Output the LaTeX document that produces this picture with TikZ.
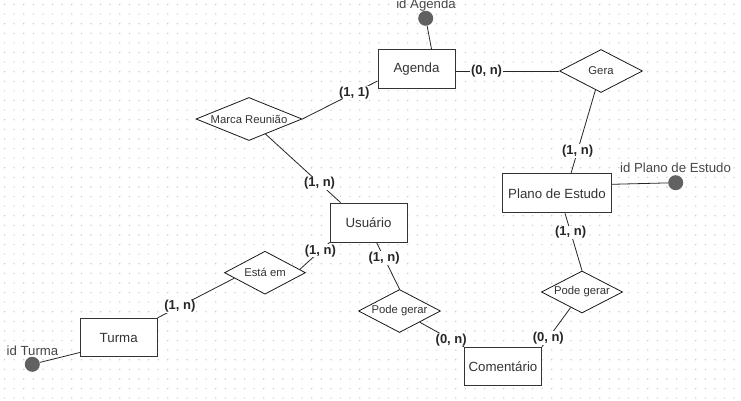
\documentclass[tikz,border=0pt]{standalone}
\usepackage{fontspec}
\setmainfont{Liberation Sans}
\usetikzlibrary{shapes.geometric,calc}
\begin{document}
\begin{tikzpicture}[x=1pt,y=-1pt,
 entity/.style={draw=black!80, line width=0.9pt, fill=white, minimum width=77pt, minimum height=39pt, inner sep=0pt, font=\fontsize{13.3}{16}\selectfont, text=black!80},
 rel/.style={draw=black!90, line width=0.8pt, diamond, aspect=2.4, fill=white, inner sep=0pt, font=\fontsize{11.3}{13}\selectfont, text=black!80},
 card/.style={fill=white, inner sep=0.6pt, font=\bfseries\fontsize{13}{15}\selectfont, text=black!85},
 conn/.style={draw=black!85, line width=0.8pt},
 attr/.style={circle, fill=black!62, minimum size=15pt, inner sep=0pt},
 attrlab/.style={font=\fontsize{13.2}{15}\selectfont, text=black!72, inner sep=0pt}]
\useasboundingbox (0,0) rectangle (741,401);
\fill[white] (0,0) rectangle (741,401);
\fill[black!22] \foreach \i in {0,...,76} { \foreach \j in {0,...,41} { (4+\i*9.6, 4+\j*9.6) rectangle +(1.1,1.1) } };

% entities
\node[entity] (agenda) at (416.5,69) {Agenda};
\node[entity] (usuario) at (368.5,222.5) {Usuário};
\node[entity, minimum width=109pt] (plano) at (557,193.3) {Plano de Estudo};
\node[entity, minimum height=38.5pt] (turma) at (118.7,337.5) {Turma};
\node[entity, minimum height=38.5pt] (coment) at (503,366.5) {Comentário};

% relationships
\node[rel, minimum width=106pt, minimum height=43pt] (marca) at (249,119) {Marca Reunião};
\node[rel, minimum width=83pt, minimum height=43pt] (gera) at (601,71) {Gera};
\node[rel, minimum width=81pt, minimum height=42pt] (pg2) at (582,292) {Pode gerar};
\node[rel, minimum width=82pt, minimum height=43pt] (pg1) at (399.5,311) {Pode gerar};
\node[rel, minimum width=81pt, minimum height=43pt] (esta) at (265,272.7) {Está em};

% attributes
\node[attr] (idagenda) at (425.7,18.3) {};
\node[attr] (idplano) at (675.7,182.7) {};
\node[attr] (idturma) at (32.3,364.3) {};

% connectors
\draw[conn] ([yshift=-12pt]agenda.west) -- node[card,pos=0.31]{(1, 1)} (marca.east);
\draw[conn] (marca) -- node[card,pos=0.72]{(1, n)} ([xshift=11pt]usuario.north west);
\draw[conn] (agenda.east |- gera.west) -- node[card,pos=0.30]{(0, n)} (gera.west);
\draw[conn] (gera) -- node[card,pos=0.73]{(1, n)} ([xshift=14pt]plano.north);
\draw[conn] ([yshift=9pt]plano.east) -- (idplano);
\draw[conn] ([xshift=8pt]plano.south) -- node[card,pos=0.33]{(1, n)} (pg2.north);
\draw[conn] (pg2) -- node[card,pos=0.78]{(0, n)} (coment.north east);
\draw[conn] ([xshift=8pt]usuario.south) -- node[card,pos=0.33]{(1, n)} (pg1.north);
\draw[conn] (pg1) -- node[card,pos=0.71]{(0, n)} (coment.north west);
\draw[conn] ($(esta.east)!0.15!(esta.north)$) -- node[card,pos=0.69]{(1, n)} (usuario.south west);
\draw[conn] ($(esta.west)!0.25!(esta.south)$) -- node[card,pos=0.71]{(1, n)} (turma.north east);
\draw[conn] ([yshift=-15pt]turma.west) -- (idturma);
\draw[conn] ([xshift=15pt]agenda.north) -- (idagenda);

% attribute labels
\node[attrlab] (lagenda) at (426,5.5) {id Agenda};
\node[attrlab] (lplano) at (675.5,168) {id Plano de Estudo};
\node[attrlab] (lturma) at (32.5,351) {id Turma};
\end{tikzpicture}
\end{document}
